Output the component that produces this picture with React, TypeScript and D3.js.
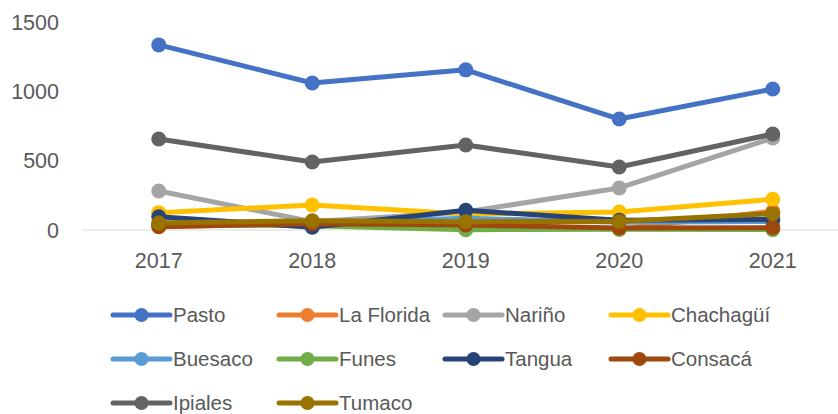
import * as d3 from 'd3';
import { useRef, useEffect } from 'react';

// years on the x axis
const years = ['2017', '2018', '2019', '2020', '2021'];
const yTicks = [0, 500, 1000, 1500];

// one array per municipality
const pasto = [1335, 1060, 1155, 800, 1017];
const laFlorida = [25, 45, 40, 5, 135];
const narino = [281, 60, 130, 303, 663];
const chachagui = [125, 180, 115, 130, 222];
const buesaco = [50, 50, 85, 55, 62];
const funes = [40, 30, 2, 5, 3];
const tangua = [96, 20, 142, 70, 77];
const consaca = [24, 45, 36, 14, 17];
const ipiales = [656, 490, 613, 454, 692];
const tumaco = [50, 67, 60, 62, 118];

const seriesNames = ['Pasto', 'La Florida', 'Nariño', 'Chachagüí', 'Buesaco', 'Funes', 'Tangua', 'Consacá', 'Ipiales', 'Tumaco'];
const seriesValues = [pasto, laFlorida, narino, chachagui, buesaco, funes, tangua, consaca, ipiales, tumaco];
const colors = ['#4472C4', '#ED7D31', '#A5A5A5', '#FFC000', '#5B9BD5', '#70AD47', '#264478', '#9E480E', '#636363', '#997300'];

export default function App() {
    const ref = useRef(null);

    useEffect(() => {
        const width = 838;
        const height = 414;
        const font = '"Liberation Sans", Arial, sans-serif';

        const svg = d3.select(ref.current)
            .attr('width', width)
            .attr('height', height)
            .style('position', 'absolute')
            .style('left', '0px')
            .style('top', '0px');
        svg.selectAll('*').remove();

        const x = d3.scaleBand()
            .domain(years)
            .range([82, 849.5])
            .padding(0);
        const cx = d => x(d) + x.bandwidth() / 2;

        const y = d3.scaleLinear()
            .domain([0, 1500])
            .range([230, 22]);

        // baseline
        svg.append('line')
            .attr('x1', 82)
            .attr('x2', width)
            .attr('y1', y(0))
            .attr('y2', y(0))
            .attr('stroke', '#d9d9d9')
            .attr('stroke-width', 1.2);

        // y tick labels
        svg.selectAll('.ytick')
            .data(yTicks)
            .enter().append('text')
            .attr('x', 59)
            .attr('y', d => y(d))
            .attr('dy', '0.35em')
            .attr('text-anchor', 'end')
            .style('font-family', font)
            .style('font-size', '21.5px')
            .style('fill', '#595959')
            .text(d => d);

        // x tick labels
        svg.selectAll('.xtick')
            .data(years)
            .enter().append('text')
            .attr('x', d => cx(d))
            .attr('y', 268)
            .attr('text-anchor', 'middle')
            .style('font-family', font)
            .style('font-size', '21.5px')
            .style('fill', '#595959')
            .text(d => d);

        const line = d3.line()
            .x((d, i) => cx(years[i]))
            .y(d => y(d));

        seriesValues.forEach((vals, s) => {
            const g = svg.append('g');
            g.append('path')
                .datum(vals)
                .attr('d', line)
                .attr('fill', 'none')
                .attr('stroke', colors[s])
                .attr('stroke-width', 5)
                .attr('stroke-linejoin', 'round')
                .attr('stroke-linecap', 'round');
            g.selectAll('circle')
                .data(vals)
                .enter().append('circle')
                .attr('cx', (d, i) => cx(years[i]))
                .attr('cy', d => y(d))
                .attr('r', 7.5)
                .attr('fill', colors[s]);
        });

        // legend
        const legend = svg.append('g');
        seriesNames.forEach((name, i) => {
            const col = i % 4;
            const row = Math.floor(i / 4);
            const lx = 113 + col * 166;
            const ly = 315 + row * 44;
            const item = legend.append('g').attr('transform', `translate(${lx}, ${ly})`);
            item.append('line')
                .attr('x1', 0)
                .attr('x2', 57)
                .attr('stroke', colors[i])
                .attr('stroke-width', 5)
                .attr('stroke-linecap', 'round');
            item.append('circle')
                .attr('cx', 28.5)
                .attr('r', 7)
                .attr('fill', colors[i]);
            item.append('text')
                .attr('x', 60)
                .attr('dy', '0.35em')
                .style('font-family', font)
                .style('font-size', '20.5px')
                .style('fill', '#595959')
                .text(name);
        });
    }, []);

    return (
        <svg ref={ref}></svg>
    );
}
